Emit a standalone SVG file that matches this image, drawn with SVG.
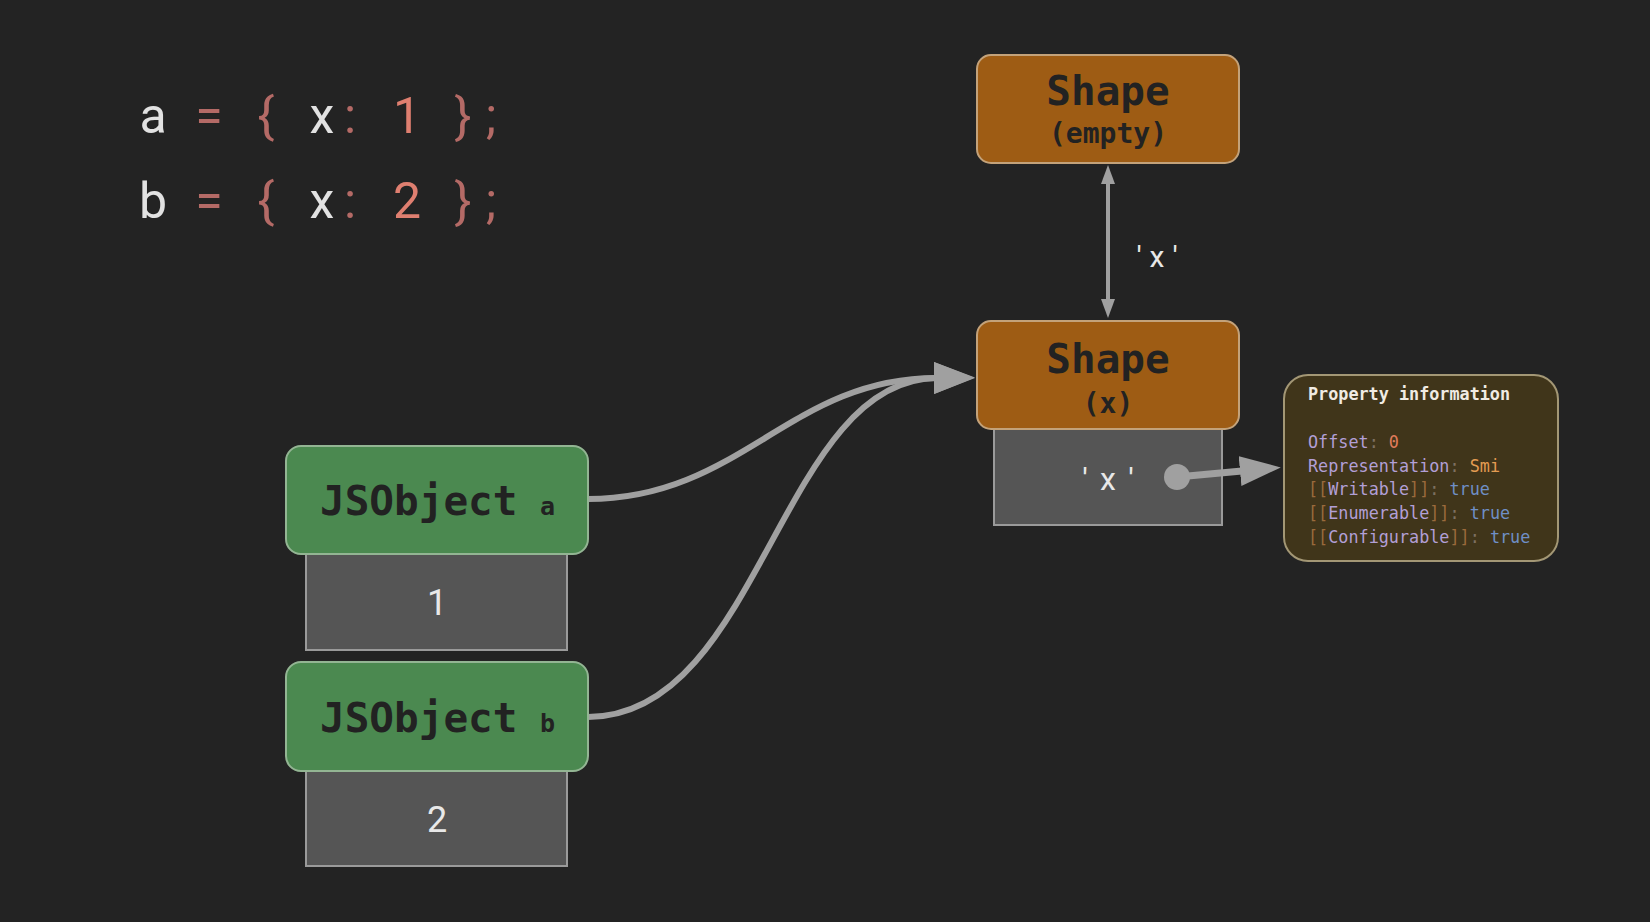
<svg xmlns="http://www.w3.org/2000/svg" width="1650" height="922" viewBox="0 0 1650 922">
<style>
.code{font-family:Roboto,"Liberation Sans",sans-serif;font-size:50px;}
.id{fill:#e2e2e2;}
.pun{fill:#b46a66;}
.num{fill:#df7f70;}
.shape{fill:#9e5c14;stroke:#c3a27a;stroke-width:2;}
.obj{fill:#4b8950;stroke:#93b593;stroke-width:2;}
.slot{fill:#555555;stroke:#9a9a9a;stroke-width:2;}
.title{font-family:"DejaVu Sans Mono","Liberation Mono",monospace;font-weight:bold;fill:#222222;}
.val{font-family:Roboto,"Liberation Sans",sans-serif;fill:#e8e8e8;}
.conn{fill:none;stroke:#a0a0a0;}
.pi{font-family:"DejaVu Sans Mono","Liberation Mono",monospace;font-size:16.8px;}
.k{fill:#b29fd6;}
.c{fill:#7d7060;}
.b{fill:#9a6a3c;}
.t{fill:#6f8fc6;}
</style>
<defs>
<marker id="bigArrow" markerUnits="userSpaceOnUse" markerWidth="44" markerHeight="34" refX="2" refY="16" orient="auto">
<polygon points="0,0 41,16 0,32" fill="#a0a0a0"/>
</marker>
<marker id="propArrow" markerUnits="userSpaceOnUse" markerWidth="44" markerHeight="32" refX="2" refY="15" orient="auto">
<polygon points="0,0 41,15 0,30" fill="#a0a0a0"/>
</marker>
<marker id="smallArrow" markerUnits="userSpaceOnUse" markerWidth="20" markerHeight="16" refX="1" refY="7" orient="auto-start-reverse">
<polygon points="0,0 19,7 0,14" fill="#a0a0a0"/>
</marker>
</defs>
<rect x="0" y="0" width="1650" height="922" fill="#232323"/>

<g id="code">
<text class="code" text-anchor="middle" x="153 181 209 237 266 294 322 350 378 407 435 463 491" y="133"><tspan class="id">a</tspan><tspan> </tspan><tspan class="pun">=</tspan><tspan> </tspan><tspan class="pun">{</tspan><tspan> </tspan><tspan class="id">x</tspan><tspan class="pun">:</tspan><tspan> </tspan><tspan class="num">1</tspan><tspan> </tspan><tspan class="pun">}</tspan><tspan class="pun">;</tspan></text>
<text class="code" text-anchor="middle" x="153 181 209 237 266 294 322 350 378 407 435 463 491" y="218"><tspan class="id">b</tspan><tspan> </tspan><tspan class="pun">=</tspan><tspan> </tspan><tspan class="pun">{</tspan><tspan> </tspan><tspan class="id">x</tspan><tspan class="pun">:</tspan><tspan> </tspan><tspan class="num">2</tspan><tspan> </tspan><tspan class="pun">}</tspan><tspan class="pun">;</tspan></text>
</g>

<g id="connectors">
<path class="conn" stroke-width="6" d="M588,499 C740,499 790,378 936,378" marker-end="url(#bigArrow)"/>
<path class="conn" stroke-width="6" d="M588,717 C760,717 780,380 936,378" marker-end="url(#bigArrow)"/>
<line class="conn" stroke-width="4" x1="1108" y1="183" x2="1108" y2="300" marker-start="url(#smallArrow)" marker-end="url(#smallArrow)"/>
<text class="val" font-size="30" text-anchor="middle" x="1139 1157 1175" y="267">'x'</text>
</g>

<g id="shape-empty">
<rect class="shape" x="977" y="55" width="262" height="108" rx="14"/>
<text class="title" font-size="41" text-anchor="middle" x="1108" y="105">Shape</text>
<text class="title" font-size="28" text-anchor="middle" x="1108" y="143">(empty)</text>
</g>

<g id="shape-x">
<rect class="slot" x="994" y="428" width="228" height="97"/>
<rect class="shape" x="977" y="321" width="262" height="108" rx="14"/>
<text class="title" font-size="41" text-anchor="middle" x="1108" y="373">Shape</text>
<text class="title" font-size="28" text-anchor="middle" x="1108" y="413">(x)</text>
<text class="val" font-size="32" text-anchor="middle" x="1085 1108 1131" y="490">'x'</text>
</g>

<g id="prop-link">
<line class="conn" stroke-width="7" x1="1177" y1="477" x2="1242" y2="471" marker-end="url(#propArrow)"/>
<circle cx="1177" cy="477" r="13" fill="#a0a0a0"/>
</g>

<g id="property-info">
<rect x="1284" y="375" width="274" height="186" rx="24" fill="#40351a" stroke="#a39775" stroke-width="2"/>
<text class="pi" x="1308" y="400" font-weight="bold" fill="#f0ebe3">Property information</text>
<text class="pi" x="1308" y="448"><tspan class="k">Offset</tspan><tspan class="c">:</tspan> <tspan fill="#e07c5c">0</tspan></text>
<text class="pi" x="1308" y="472"><tspan class="k">Representation</tspan><tspan class="c">:</tspan> <tspan fill="#e39c52">Smi</tspan></text>
<text class="pi" x="1308" y="495"><tspan class="b">[[</tspan><tspan class="k">Writable</tspan><tspan class="b">]]</tspan><tspan class="c">:</tspan> <tspan class="t">true</tspan></text>
<text class="pi" x="1308" y="519"><tspan class="b">[[</tspan><tspan class="k">Enumerable</tspan><tspan class="b">]]</tspan><tspan class="c">:</tspan> <tspan class="t">true</tspan></text>
<text class="pi" x="1308" y="543"><tspan class="b">[[</tspan><tspan class="k">Configurable</tspan><tspan class="b">]]</tspan><tspan class="c">:</tspan> <tspan class="t">true</tspan></text>
</g>

<g id="jsobject-a">
<rect class="slot" x="306" y="553" width="261" height="97"/>
<rect class="obj" x="286" y="446" width="302" height="108" rx="15"/>
<text class="title" font-size="41" x="320" y="515">JSObject <tspan x="540" font-size="25">a</tspan></text>
<text class="val" font-size="36" text-anchor="middle" x="437" y="615">1</text>
</g>

<g id="jsobject-b">
<rect class="slot" x="306" y="770" width="261" height="96"/>
<rect class="obj" x="286" y="662" width="302" height="109" rx="15"/>
<text class="title" font-size="41" x="320" y="732">JSObject <tspan x="540" font-size="25">b</tspan></text>
<text class="val" font-size="36" text-anchor="middle" x="437" y="832">2</text>
</g>
</svg>
